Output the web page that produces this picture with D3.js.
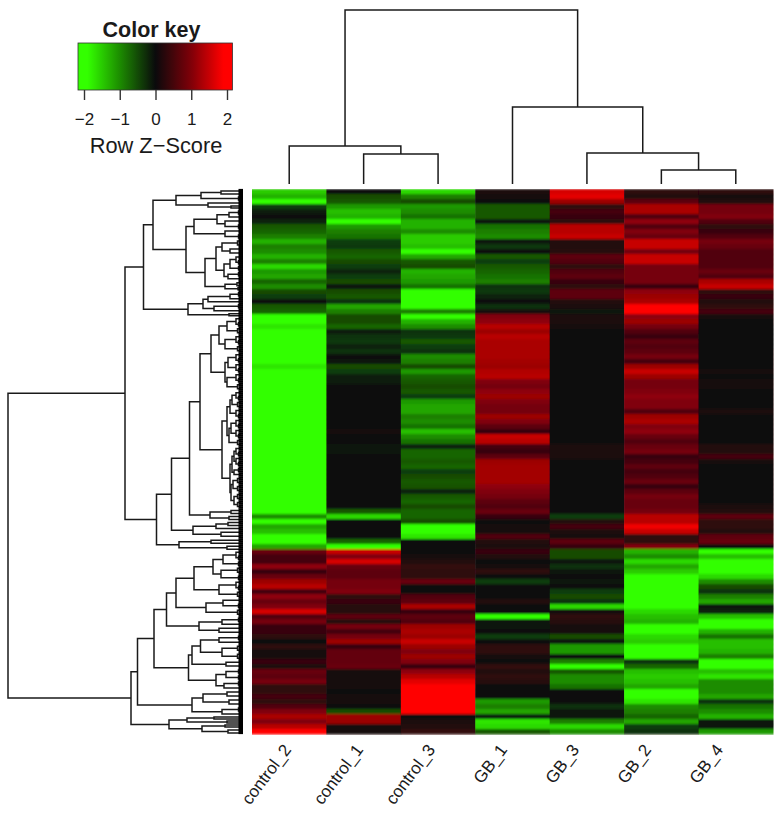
<!DOCTYPE html>
<html><head><meta charset="utf-8">
<script src="https://cdn.jsdelivr.net/npm/d3@7"></script>
<style>html,body{margin:0;padding:0;background:#fff}svg{display:block}text{font-family:"Liberation Sans",Arial,sans-serif;fill:#1a1a1a}</style>
</head><body><svg id="c" width="779" height="817"></svg>
<script>
// ---------- data: row Z-scores, top row first ----------
const control_2=[-1.5,-1.3,-1.9,-0.4,-0.15,-0.05,-0.2,-0.6,-0.7,-0.9,
-1.3,-0.9,-1.0,-1.3,-0.9,-1.6,-1.1,-1.2,-0.7,-1.0,
-0.5,-0.4,-0.05,-0.6,-0.7,-1.9,-2,-1.7,-2.3,-2.3,
-2.3,-2.3,-2.3,-2,-2,-1.7,-2,-2.3,-2.3,-2.3,
-2.3,-2.3,-2.3,-2.3,-2.3,-2.3,-2.3,-2.3,-2.3,-2.3,
-2.3,-2.3,-2.3,-2.3,-2.3,-2.3,-2.3,-2.3,-2.3,-2.3,
-2.3,-2.3,-2.3,-2.3,-2.3,-1.0,-2,-1.2,-1.4,-2,
-1.9,-1.2,0.8,0.5,0.5,1.1,0.4,0.8,1.2,1.4,
0.5,1.1,0.8,1.0,1.6,0.6,0.9,0.4,0.4,0.3,
0.05,0.3,0.1,0.1,0.4,0.15,0.8,0.7,0.9,0.3,
0.3,0.5,0.3,0.6,1.0,1.3,1.0,1.4,2.2];
const control_1=[0.05,-0.5,-0.6,-1.1,-1.4,-1.3,-2.1,-1.1,-0.9,-0.8,
-0.4,-0.35,-0.6,-0.7,-0.5,-0.4,-0.2,-0.4,-0.5,-0.1,
-0.5,-0.6,-0.3,-1.2,-0.9,-0.5,-0.5,-0.7,-0.15,-0.3,
-0.35,-0.2,-0.3,-0.05,-0.1,-0.5,-0.4,-0.15,-0.15,-0.05,
-0.03,-0.05,-0.03,-0.02,0,0,0,0.05,0.1,0,
0,-0.1,-0.1,-0.05,-0.03,-0.02,0,0,0,0,
0,0,0,-0.05,-0.6,-1.6,0.05,0.05,0.05,0.05,
-0.7,-2.1,1.5,1.0,1.6,0.8,0.7,0.7,0.9,0.9,
1.0,0.3,0.4,0.25,0.25,0.7,0.25,0.9,0.5,0.9,
1.2,0.4,0.75,0.75,0.75,0.8,0.1,0.08,0.08,0.08,
0.03,0.08,0.08,0.02,-0.5,1.2,1.2,0.1,0.1];
const control_3=[-1.6,-0.9,-0.5,-1.1,-1.0,-0.8,-1.3,-1.3,-1.0,-1.5,
-1.5,-1.4,-1.9,-1.2,-0.6,-0.5,-1.3,-1.2,-1.1,-0.8,
-2.2,-2.2,-2.2,-2.2,-0.9,-1.9,-1.3,-1.0,-0.3,-0.35,
-0.6,-0.4,-0.3,-1.0,-0.9,-0.5,-1.1,-0.7,-0.6,-0.5,
-0.6,-0.4,-1.1,-1.2,-1.2,-0.9,-1.0,-0.8,-1.4,-1.0,
-0.8,-0.2,-0.7,-0.7,-0.6,-0.7,-0.4,-0.5,-0.6,-0.55,
-0.2,-0.6,-0.7,-0.5,-0.7,-0.7,-0.5,-2.1,-2.2,-1.7,
0.02,0.05,0.05,0.1,0.2,0.35,0.3,0.3,0.8,0.05,
0.05,0.6,0.7,1.3,0.4,0.7,0.6,1.2,1.3,1.2,
1.5,1.2,1.0,1.2,1.0,0.4,1.1,1.4,1.7,2.1,
2.2,1.9,2.1,2.2,2.0,0.05,0.15,0.2,0.35];
const GB_1=[0.15,0.1,0.02,-0.6,-0.6,-0.6,-0.1,-0.8,-0.9,-1.0,
-0.1,-0.35,-0.02,-0.6,-0.4,-0.6,-0.7,-0.8,-0.9,-0.3,
-0.35,-0.2,0.02,-0.3,0.1,1.0,1.1,1.4,1.2,1.4,
1.3,1.3,1.3,1.3,1.25,1.2,1.35,1.4,1.0,0.9,
1.1,1.2,1.0,0.9,0.9,1.2,1.0,0.7,0.4,1.5,
1.4,0.5,0.4,0.7,1.2,1.25,1.25,1.25,1.25,1.1,
1.0,0.9,0.7,0.6,0.8,0.4,0.05,0.1,0.1,0.6,
0.2,0.15,0.4,0.2,0.05,0.1,0.3,0.05,-0.4,0.02,
0.02,0.05,0.2,0.02,0.02,-1.9,-0.1,-0.1,-0.05,-0.4,
-0.05,0.3,0.3,0.1,0.02,0.35,0.2,0.3,0.25,0.05,
-0.05,-0.05,-1.1,-0.9,-1.2,-0.2,-1.7,-1.6,-0.6];
const GB_3=[1.6,1.7,1.2,0.3,0.5,0.4,0.3,1.4,1.4,1.5,
0.2,0.2,0.25,0.7,0.6,0.3,0.6,0.7,0.4,0.3,
0.7,0.7,0.2,0.15,-0.1,0.15,0.15,0.1,0.03,0.03,
0.03,0.03,0.03,0.03,0.02,-0.05,-0.05,0,0.03,0.05,
0.05,0.05,0.03,0.05,0.05,0.02,0,0,0,-0.02,
-0.02,0.15,0.15,0.15,0.05,0.03,0.03,0.02,0.02,0.02,
0.02,0.02,0.02,0.03,0.05,-0.4,0.2,0.5,0.15,0.1,
0.7,0.4,-0.5,-0.5,-0.1,-0.3,-0.1,-0.05,-0.1,0,
-0.4,-0.5,-0.3,-1.6,0.1,0.3,0.25,0.1,0.1,-0.5,
-0.1,-1.1,-1.1,-0.05,-0.9,-1.9,-0.6,-1.0,-1.0,-0.8,
0.02,0.02,0.02,-0.3,-0.1,-0.1,-0.9,-1.6,-1.0];
const GB_2=[0.3,0.2,0.7,1.3,1.3,0.6,1.1,0.6,1.0,0.8,
1.5,1.5,0.9,1.5,1.5,0.9,0.9,0.9,0.9,0.4,
1.1,1.2,1.3,1.9,2.0,1.1,1.2,0.9,0.6,0.4,
0.7,0.6,0.7,0.9,0.5,1.2,1.5,1.2,0.9,0.9,
1.0,1.1,1.0,1.0,0.6,1.2,1.3,1.0,1.1,0.8,
0.6,0.8,0.9,0.4,0.5,0.7,0.5,0.6,0.8,0.4,
0.7,0.9,0.8,0.8,0.9,1.4,1.4,1.8,1.5,0.3,
0.3,1.0,-1.3,-1.0,-1.6,-1.2,-1.5,-2.1,-1.9,-2.0,
-2.2,-2.2,-2.2,-2.1,-1.6,-1.4,-1.3,-1.9,-2.1,-1.6,
-1.5,-1.9,-2.2,-2.2,-0.3,-0.7,-1.4,-1.5,-1.4,-1.2,
-2.2,-2.1,-1.7,-1.0,-0.9,-0.7,-1.2,-0.4,-0.3];
const GB_4=[0.3,0.1,0.2,0.9,0.9,1.0,0.6,0.3,0.4,0.6,
0.9,0.8,0.6,0.6,0.6,0.6,0.8,0.6,1.3,1.5,
0.3,0.4,0.2,0.3,0.5,0.1,0.05,0.02,0.02,0.02,
0.02,0.02,0.03,0.03,0.03,0.04,0.1,0,0.1,0.1,
0.05,0.05,0.05,0.05,0.15,0.03,0.03,0.03,0.03,0.03,
0.03,0.2,0.2,0.5,0.1,0.05,0.05,0.05,0.05,0.05,
0.05,0.05,0.05,0.15,0.2,0.7,0.3,0.3,0.2,0.7,
0.8,0.05,-2.0,-1.4,-2.1,-2.1,-2.1,-1.6,-1.0,-0.5,
-0.3,-0.9,-1.2,-0.1,-0.2,-1.4,-2.1,-2.1,-1.3,-0.8,
-1.4,-1.4,-1.3,-0.9,-2.0,-1.9,-1.4,-1.7,-1.0,-1.0,
-1.0,-1.2,-0.3,-0.8,-1.0,-1.3,-0.1,-0.1,-1.1];

const columnLabels=["control_2","control_1","control_3","GB_1","GB_3","GB_2","GB_4"];
const columnValues=[control_2,control_1,control_3,GB_1,GB_3,GB_2,GB_4];
const keyTicks=[-2,-1,0,1,2];

// column dendrogram: [height, left, right]; a string is a leaf
const columnTree=[100,[21.8,"control_2",[17.2,"control_1","control_3"]],
                      [44.2,"GB_1",[17.8,"GB_3",[8,"GB_2","GB_4"]]]];

// row dendrogram: [height, left, right]; 0 is a leaf. Small recurring clusters first.
const p2=[3,0,0], p3=[4.5,p2,0], p4=[5.5,p2,p2], p5=[7,p2,p3];
const rowUpper=[99.5,
  [90,
    [67,[42,[22,p2,0],p3],[35,p2,[12,0,0]]],
    [57,
      [49,[26,[14,p3,p2],[18,p2,p3]],[18,p2,p3]],
      [38,[27,[21,p4,[13,p2,p2]],[19,[13,p5,p3],[15,p3,p2]]],[18,[6,p2,0],[5,0,0]]]]],
  [55,
    [40,[35,[13,p3,p2],0],[29,p3,p2]],
    [14,0,0]]];
const rowMiddle=[86.5,
  [71.5,
    [53.5,
      [43,
        [32,[24,[16,p5,p4],[18,p5,p4]],[18,[15,p5,p5],[16,p5,p4]]],
        [21,[16,[13,[11,p5,p4],p5],[14,[12,p5,p5],p4]],
            [13,[11,[9,p5,p5],[9,p3,p2]],[12,[10,p4,p4],[9,p4,p4]]]]],
      [33,[12,p2,0],[14,p2,0]]],
    [50,[27,[15,p2,0],p2],[22,p2,p2]]],
  [64,[32,p2,0],[16,p2,0]]];
const rowLower=[112,
  [105.5,
    [89,
      [76.5,
        [67,
          [49,[30,[20,p5,p3],[22,p4,p3]],[24,p5,p4]],
          [37,[20,p2,p3],p4]],
        [44,[21,p3,p2],[24,p2,p2]]],
      [54.5,
        [51,[42.5,[24,p3,p2],[21,p4,p4]],[17,p2,p2]],
        [27,[17,p3,p3],[19,p3,p2]]]],
    [51,[40,[16,p2,p2],[14,p2,p2]],[21,p3,p2]]],
  [74,[56,[29,0,0],[16,0,0]],[41,[18,0,0],[15,p2,0]]]];
const rowTree=[235,[118,rowUpper,rowMiddle],rowLower];

// ---------- scales ----------
const svg=d3.select("#c");
const heat={left:252,right:773,top:189,bottom:734};
const x=d3.scaleBand().domain(columnLabels).range([heat.left,heat.right]);
const y=d3.scaleBand().domain(d3.range(control_2.length)).range([heat.top,heat.bottom]);
const color=d3.scaleLinear().domain([-1.9,-1,0,1,1.9])
  .range(["#33ff00","#1c8c00","#0a0a0c","#800008","#ff0000"]).clamp(true);
const labelX=d3.scalePoint().domain(columnLabels).range([292,724]);

const defs=svg.append("defs");
defs.append("filter").attr("id","soft").attr("x","0").attr("y","0").attr("width","1").attr("height","1")
  .append("feGaussianBlur").attr("stdDeviation","0.4 0.9");

// ---------- heat map ----------
svg.append("g").attr("filter","url(#soft)")
 .selectAll("g").data(columnLabels).join("g")
 .selectAll("rect").data((c,i)=>columnValues[i].map((v,r)=>({c,r,v}))).join("rect")
 .attr("x",d=>x(d.c)).attr("y",d=>y(d.r))
 .attr("width",x.bandwidth()+0.5).attr("height",y.bandwidth()+0.5)
 .attr("fill",d=>color(d.v));

// ---------- dendrograms ----------
const kids=d=>Array.isArray(d)?d.slice(1):null;
function layout(tree,leafScale){
  const root=d3.hierarchy(tree,kids);
  root.leaves().forEach((l,i)=>{l.pos=leafScale(i);});
  root.eachAfter(n=>{ if(n.children){n.pos=(n.children[0].pos+n.children[1].pos)/2;} });
  return root;
}
const nodeH=n=>Array.isArray(n.data)?n.data[0]:0;
const stroke={fill:"none",stroke:"#1a1a1a","stroke-width":1.5};

// columns
const colRoot=layout(columnTree,i=>x(columnLabels[i])+x.bandwidth()/2);
const colH=d3.scaleLinear().domain([0,100]).range([184,10]);
const cg=svg.append("g").attr("fill",stroke.fill).attr("stroke",stroke.stroke).attr("stroke-width",stroke["stroke-width"]);
cg.selectAll("path").data(colRoot.descendants().filter(n=>n.children)).join("path")
 .attr("d",n=>{const [a,b]=n.children;
   return `M${a.pos},${colH(nodeH(a))}V${colH(nodeH(n))}H${b.pos}V${colH(nodeH(b))}`;});

// rows
const leafCount=d3.hierarchy(rowTree,kids).leaves().length;
const rowLeaf=d3.scaleLinear().domain([0,leafCount-1]).range([heat.top+1,heat.bottom-1]);
const rowRoot=layout(rowTree,rowLeaf);
const rowH=d3.scaleLinear().domain([0,235]).range([243,8]);
const rg=svg.append("g").attr("fill",stroke.fill).attr("stroke",stroke.stroke).attr("stroke-width",stroke["stroke-width"]);
rg.selectAll("path").data(rowRoot.descendants().filter(n=>n.children)).join("path")
 .attr("d",n=>{const [a,b]=n.children;
   return `M${rowH(nodeH(a))},${a.pos}H${rowH(nodeH(n))}V${b.pos}H${rowH(nodeH(b))}`;});
// leaf ends merge to a solid edge
svg.append("g").attr("stroke","#000").attr("stroke-width",2.2)
 .selectAll("line").data(rowRoot.leaves()).join("line")
 .attr("x1",rowH(4.5)).attr("x2",rowH(0)).attr("y1",d=>d.pos).attr("y2",d=>d.pos);

// ---------- column labels ----------
svg.append("g").selectAll("text").data(columnLabels).join("text")
 .attr("transform",d=>`translate(${labelX(d)},750) rotate(-53)`)
 .attr("text-anchor","end").attr("font-size",17).text(d=>d);

// ---------- colour key ----------
const key={left:78,right:232.5,top:43,bottom:90};
const keyX=d3.scaleLinear().domain([-2,2]).range([84,227]);
const gid="keyGrad";
const keyDomain=[keyX.invert(key.left),keyX.invert(key.right)];
const grad=defs.append("linearGradient").attr("id",gid);
d3.range(0,1.0001,0.02).forEach(t=>{
  grad.append("stop").attr("offset",t).attr("stop-color",color(keyDomain[0]+t*(keyDomain[1]-keyDomain[0])));
});
svg.append("rect").attr("x",key.left).attr("y",key.top)
 .attr("width",key.right-key.left).attr("height",key.bottom-key.top)
 .attr("fill",`url(#${gid})`).attr("stroke","#333").attr("stroke-width",0.8);
const ax=svg.append("g").attr("transform",`translate(0,${key.bottom})`)
 .call(d3.axisBottom(keyX).tickValues(keyTicks).tickSize(10).tickPadding(13)
   .tickFormat(d=>String(d).replace("-","\u2212")));
ax.select(".domain").remove();
ax.selectAll("line").attr("stroke","#333").attr("stroke-width",1.4);
ax.selectAll("text").attr("font-size",17).attr("font-family","Liberation Sans").attr("fill","#1a1a1a");
svg.append("text").attr("x",151.5).attr("y",37).attr("text-anchor","middle")
 .attr("font-size",21.5).attr("font-weight","bold").attr("fill","#111").text("Color key");
svg.append("text").attr("x",156).attr("y",153).attr("text-anchor","middle")
 .attr("font-size",21.8).text("Row Z\u2212Score");
</script></body></html>
